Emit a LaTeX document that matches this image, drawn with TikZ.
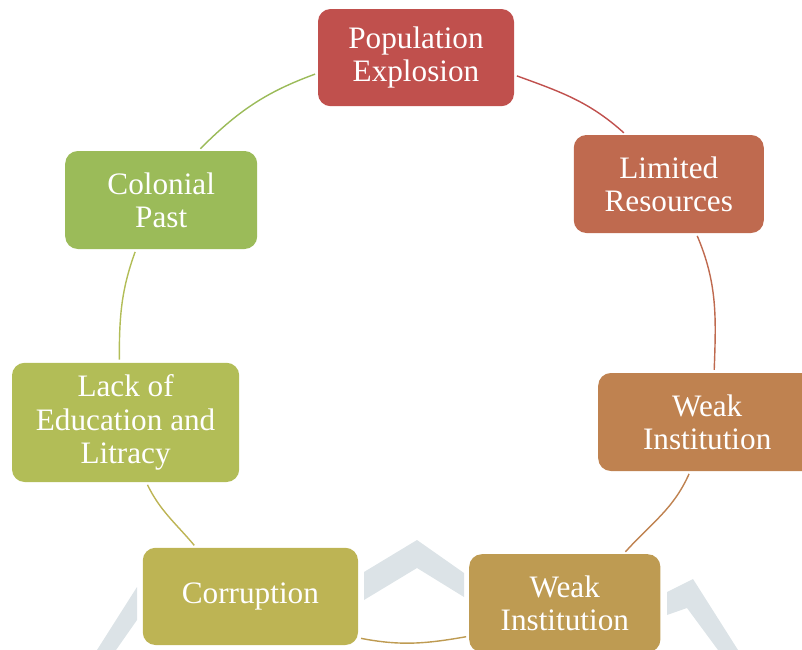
\documentclass[tikz,border=0pt]{standalone}
\usepackage{fontspec}
\setmainfont{Liberation Serif}
\usetikzlibrary{calc}
\definecolor{cPop}{HTML}{C0504D}
\definecolor{cLim}{HTML}{BF6A4F}
\definecolor{cWeakA}{HTML}{BF8250}
\definecolor{cWeakB}{HTML}{BE9B52}
\definecolor{cCorr}{HTML}{BDB454}
\definecolor{cLack}{HTML}{B2BD57}
\definecolor{cCol}{HTML}{9BBB59}
\definecolor{wmgray}{HTML}{DCE3E7}
\tikzstyle{box} = [rectangle, rounded corners=9pt, text=white, align=center, inner sep=0pt, font=\fontsize{22.2}{23.6}\selectfont]
\tikzstyle{link} = [line width=1pt, shorten <=2pt, shorten >=2pt]

\begin{document}
\begin{tikzpicture}
        \useasboundingbox (0,0) rectangle (20.05,-16.25);

        % faint watermark behind the cycle
        \fill[wmgray] (9.1,-14.3) -- (10.425,-13.5) -- (11.6,-14.325) -- (11.6,-14.925) -- (10.425,-14.2) -- (9.1,-15.0) -- cycle;
        \fill[wmgray] (16.675,-14.8) -- (17.325,-14.475) -- (18.45,-16.25) -- (17.95,-16.25) -- (17.175,-15.2) -- (16.675,-15.375) -- cycle;
        \fill[wmgray] (2.425,-16.25) -- (3.425,-14.675) -- (3.425,-15.5) -- (2.9,-16.25) -- cycle;

        \node at (10.4,-1.44) [box, fill=cPop, minimum width=4.9cm, minimum height=2.43cm](pop) {Population\\Explosion};
        \node at (16.72,-4.6) [box, fill=cLim, minimum width=4.75cm, minimum height=2.45cm](lim) {Limited\\Resources};
        \node at (17.68,-10.55) [box, fill=cWeakA, minimum width=5.45cm, minimum height=2.45cm](weakA) {Weak\\Institution};
        \node at (14.12,-15.08) [box, fill=cWeakB, minimum width=4.78cm, minimum height=2.45cm](weakB) {Weak\\Institution};
        \node at (6.26,-14.91) [box, fill=cCorr, minimum width=5.38cm, minimum height=2.43cm](corr) {Corruption};
        \node at (3.14,-10.56) [box, fill=cLack, minimum width=5.68cm, minimum height=2.98cm](lack) {Lack of\\Education and\\Litracy};
        \node at (4.03,-5.0) [box, fill=cCol, minimum width=4.8cm, minimum height=2.45cm](col) {Colonial\\Past};

        \draw[link, cPop] (pop.-10) to[out=-20, in=138] (lim.131);
        \draw[link, cLim] (lim.-61) to[out=-67, in=88] (weakA.82);
        \draw[link, cWeakA] (weakA.-109) to[out=-114, in=48] (weakB.40);
        \draw[link, cWeakB] (weakB.-161) to[out=-170, in=-11] (corr.-21);
        \draw[link, cCorr] (corr.138) to[out=130, in=-64] (lack.-71);
        \draw[link, cLack] (lack.96) to[out=90, in=-110] (col.-117);
        \draw[link, cCol] (col.53) to[out=45, in=-160] (pop.189);

    \end{tikzpicture}
\end{document}
